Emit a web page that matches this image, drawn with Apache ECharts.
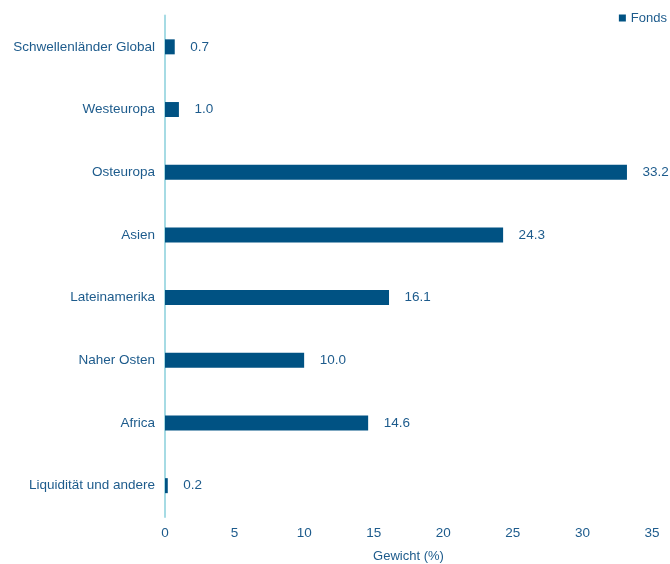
<!DOCTYPE html>
<html>
<head>
<meta charset="utf-8">
<script src="https://cdn.jsdelivr.net/npm/echarts@6/dist/echarts.min.js"></script>
<style>
html,body{margin:0;padding:0;background:#fff;}
#chart{width:670px;height:564px;}
</style>
</head>
<body>
<div id="chart"></div>
<script>
const categories = ["Schwellenländer Global","Westeuropa","Osteuropa","Asien","Lateinamerika","Naher Osten","Africa","Liquidität und andere"];
const fondsValues = [0.7, 1.0, 33.2, 24.3, 16.1, 10.0, 14.6, 0.2];
const xTicks = [0, 5, 10, 15, 20, 25, 30, 35];
const seriesName = "Fonds";
const axisName = "Gewicht (%)";

const textColor = "#1d5b8c";
const barColor = "#005283";
const font = "Liberation Sans, Arial, sans-serif";
const chart = echarts.init(document.getElementById('chart'), null, {renderer:'canvas'});
chart.setOption({
  animation: false,
  textStyle: {fontFamily: font},
  legend: {
    data: [seriesName],
    right: 3, top: 11.5, padding: 0,
    itemWidth: 7, itemHeight: 7, itemGap: 5,
    icon: 'rect',
    textStyle: {color: textColor, fontSize: 13, fontFamily: font}
  },
  grid: {left: 165, right: 18, top: 15.5, bottom: 47, containLabel: false, outerBoundsMode: 'none'},
  xAxis: {
    type: 'value',
    min: xTicks[0], max: xTicks[xTicks.length-1], interval: xTicks[1]-xTicks[0],
    axisLine: {show: false},
    axisTick: {show: false},
    splitLine: {show: false},
    axisLabel: {color: textColor, fontSize: 13.5, margin: 9},
    name: axisName,
    nameLocation: 'middle',
    nameGap: 33,
    nameTextStyle: {color: textColor, fontSize: 13}
  },
  yAxis: {
    type: 'category',
    data: categories,
    inverse: true,
    axisLine: {show: true, lineStyle: {color: "#a6dbe4", width: 2}},
    axisTick: {show: false},
    splitLine: {show: false},
    axisLabel: {color: textColor, fontSize: 13.5, margin: 10}
  },
  series: [{
    name: seriesName,
    type: 'bar',
    data: fondsValues,
    barWidth: 15,
    itemStyle: {color: barColor},
    label: {
      show: true, position: 'right', distance: 15.5,
      color: textColor, fontSize: 13.5,
      formatter: p => p.value.toFixed(1)
    }
  }]
});
</script>
</body>
</html>
